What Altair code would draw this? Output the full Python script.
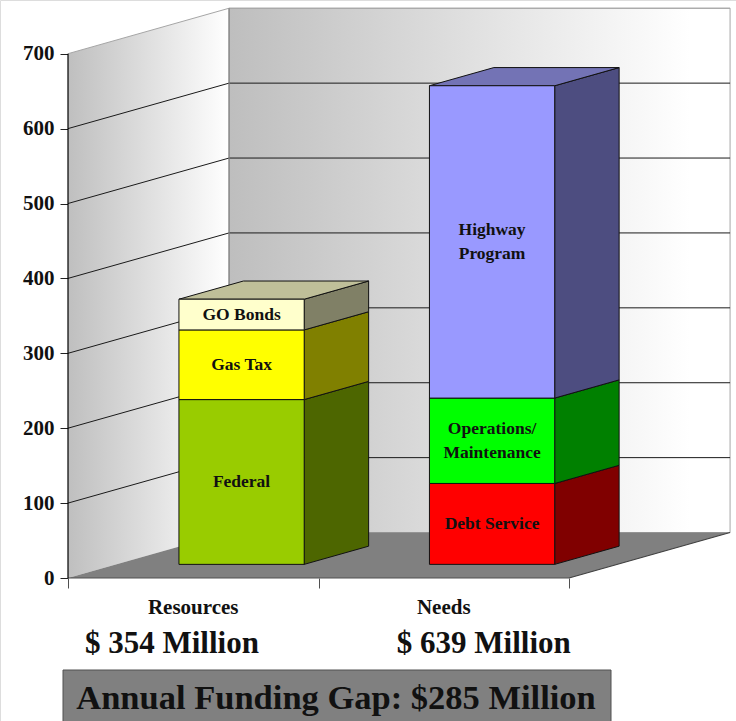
import altair as alt
import pandas as pd

# Stacked funding components, in millions of dollars
categories = ["Resources", "Needs"]
resources_names = ["Federal", "Gas Tax", "GO Bonds"]
resources_values = [220, 93, 41]
needs_names = ["Debt Service", "Operations/\nMaintenance", "Highway\nProgram"]
needs_values = [108, 114, 417]
y_ticks = [0, 100, 200, 300, 400, 500, 600, 700]

resources_front = ["#99CC00", "#FFFF00", "#FFFFCC"]
resources_side = ["#4D6600", "#808000", "#808066"]
resources_top = "#BFBF99"
needs_front = ["#FF0000", "#00FF00", "#9999FF"]
needs_side = ["#800000", "#008000", "#4D4D80"]
needs_top = "#7373B5"

FONT = "Liberation Serif"
WIDTH, HEIGHT = 736, 721
PX_PER_UNIT = 250.5
PX_PER_VALUE = 0.749

# Oblique projection of the box: depth shifts points right and upward
DEPTH_X = 0.643     # category units for the full floor depth
DEPTH_V = 60.7      # value units for the full floor depth
BAR_Z0, BAR_Z1 = 0.30, 0.70
BAR_WIDTH = 0.5
LINE_HEIGHT = 24

x_scale = alt.Scale(domain=[-68 / PX_PER_UNIT, (WIDTH - 68) / PX_PER_UNIT], nice=False, zero=False)
y_scale = alt.Scale(domain=[-(HEIGHT - 578) / PX_PER_VALUE, 578 / PX_PER_VALUE], nice=False, zero=False)

# Every layer shares these axes: the value axis on the side wall, category ticks under the floor
x_axis = alt.Axis(values=[0, 1, 2], labels=False, domain=False, grid=False, tickSize=10,
                  tickColor="#505050", title=None, offset=-(HEIGHT - 578))
y_axis = alt.Axis(values=y_ticks, domain=False, grid=False, tickSize=8, tickColor="#222222",
                  labelFont=FONT, labelFontWeight="bold", labelFontSize=21, labelColor="#111111",
                  labelPadding=6, title=None, offset=-68)


def X(field):
    return alt.X(field, type="quantitative", scale=x_scale, axis=x_axis)


def Y(field):
    return alt.Y(field, type="quantitative", scale=y_scale, axis=y_axis)


def proj(u, v, z):
    return u + z * DEPTH_X, v + z * DEPTH_V


# Walls and floor
left_wall = pd.DataFrame([
    {"u": proj(0, 0, z)[0], "lo": proj(0, 0, z)[1], "hi": proj(0, 700, z)[1]} for z in (0, 1)
])
back_wall = pd.DataFrame([
    {"u": proj(u, 0, 1)[0], "lo": proj(u, 0, 1)[1], "hi": proj(u, 700, 1)[1]} for u in (0, 2)
])
floor = pd.DataFrame([
    {"v": proj(0, 0, z)[1], "a": proj(0, 0, z)[0], "b": proj(2, 0, z)[0]} for z in (0, 1)
])


def grad(stops):
    return alt.Gradient(
        gradient="linear", x1=0, x2=1, y1=0, y2=0,
        stops=[alt.GradientStop(offset=o, color=c) for o, c in stops],
    )


left_layer = alt.Chart(left_wall).mark_area(
    orient="vertical", color=grad([(0, "#BFBFBF"), (1, "#FFFFFF")])
).encode(x=X("u"), y=Y("lo"), y2="hi")

back_layer = alt.Chart(back_wall).mark_area(
    orient="vertical", color=grad([(0, "#BEBEBE"), (0.92, "#FFFFFF"), (1, "#FFFFFF")]),
    stroke="#A6A6A6", strokeWidth=1,
).encode(x=X("u"), y=Y("lo"), y2="hi")

floor_layer = alt.Chart(floor).mark_area(orient="horizontal", color="#808080").encode(
    y=Y("v"), x=X("a"), x2="b"
)

# Gridlines run up the side wall, then across the back wall
grid_rows = []
for t in y_ticks[1:]:
    for step, (u, z) in enumerate([(0, 0), (0, 1), (2, 1)]):
        px, pv = proj(u, t, z)
        grid_rows.append({"tick": t, "step": step, "u": px, "v": pv})
grid = pd.DataFrame(grid_rows)
grid_layer = alt.Chart(grid).mark_line(strokeWidth=1).encode(
    x=X("u"), y=Y("v"), detail="tick:N", order="step:Q",
    color=alt.condition(alt.datum.tick == 700, alt.value("#A6A6A6"), alt.value("#1A1A1A")),
)

# Axis frame lines
frame_rows = [
    ("wall", *proj(0, 0, 1), 0), ("wall", *proj(0, 700, 1), 1),
    ("floor", *proj(2, 0, 0), 0), ("floor", *proj(2, 0, 1), 1),
    ("base", *proj(0, 0, 0), 0), ("base", *proj(2, 0, 0), 1),
    ("axis", *proj(0, 0, 0), 0), ("axis", *proj(0, 700, 0), 1),
]
frame = pd.DataFrame(frame_rows, columns=["name", "u", "v", "step"])
frame_styles = {"wall": "#808080", "floor": "#404040", "base": "#505050", "axis": "#000000"}
frame_layer = alt.Chart(frame).mark_line(strokeWidth=1.2).encode(
    x=X("u"), y=Y("v"), detail="name:N", order="step:Q",
    stroke=alt.Stroke("name:N", scale=alt.Scale(domain=list(frame_styles), range=list(frame_styles.values())), legend=None),
)

# Bars: front rectangles, side parallelograms, top caps
stacks = [
    (0, resources_names, resources_values, resources_front, resources_side, resources_top),
    (1, needs_names, needs_values, needs_front, needs_side, needs_top),
]
front_rows, side_rows, top_rows, label_rows = [], [], [], []
for idx, names, values, fronts, sides, top_color in stacks:
    left = idx + (1 - BAR_WIDTH) / 2
    right = left + BAR_WIDTH
    base = 0
    for name, val, f, s in zip(names, values, fronts, sides):
        upper = base + val
        xl, yl = proj(left, base, BAR_Z0)
        xr, yu = proj(right, upper, BAR_Z0)
        front_rows.append({"x0": xl, "x1": xr, "y0": yl, "y1": yu, "fill": f})
        # Multi-line labels anchor on their first line, so lift them by half the extra height
        lift = name.count("\n") * (LINE_HEIGHT / 2) / PX_PER_VALUE
        label_rows.append({"x": (xl + xr) / 2, "y": (yl + yu) / 2 + lift, "text": name})
        for z in (BAR_Z0, BAR_Z1):
            px, lo = proj(right, base, z)
            _, hi = proj(right, upper, z)
            side_rows.append({"id": name, "u": px, "lo": lo, "hi": hi, "fill": s})
        base = upper
    for z in (BAR_Z0, BAR_Z1):
        a, v = proj(left, base, z)
        b, _ = proj(right, base, z)
        top_rows.append({"id": str(idx), "v": v, "a": a, "b": b, "fill": top_color})

front_layer = alt.Chart(pd.DataFrame(front_rows)).mark_rect(stroke="#111111", strokeWidth=1).encode(
    x=X("x0"), x2="x1", y=Y("y0"), y2="y1", fill=alt.Fill("fill:N", scale=None)
)
side_layer = alt.Chart(pd.DataFrame(side_rows)).mark_area(
    orient="vertical", stroke="#111111", strokeWidth=1
).encode(x=X("u"), y=Y("lo"), y2="hi", detail="id:N", fill=alt.Fill("fill:N", scale=None))
top_layer = alt.Chart(pd.DataFrame(top_rows)).mark_area(
    orient="horizontal", stroke="#111111", strokeWidth=1
).encode(y=Y("v"), x=X("a"), x2="b", detail="id:N", fill=alt.Fill("fill:N", scale=None))

segment_labels = alt.Chart(pd.DataFrame(label_rows)).mark_text(
    font=FONT, fontWeight="bold", fontSize=17.5, color="#111111",
    lineBreak="\n", lineHeight=LINE_HEIGHT, baseline="middle",
).encode(x=X("x"), y=Y("y"), text="text:N")

category_labels = alt.Chart(pd.DataFrame({"x": [0.5, 1.5], "name": categories})).mark_text(
    font=FONT, fontWeight="bold", fontSize=21, color="#111111", baseline="middle"
).encode(x=X("x"), y=alt.value(608), text="name:N")

total_labels = alt.Chart(pd.DataFrame({
    "text": [f"$ {sum(resources_values)} Million", f"$ {sum(needs_values)} Million"],
    "x": [0.415, 1.66],
})).mark_text(font=FONT, fontWeight="bold", fontSize=31, color="#111111", baseline="middle").encode(
    x=X("x"), y=alt.value(644), text="text:N"
)

gap_box = alt.Chart(pd.DataFrame({"a": [0]})).mark_rect(
    color="#808080", stroke="#505050", strokeWidth=1
).encode(x=alt.value(63), x2=alt.value(611), y=alt.value(670), y2=alt.value(730))

gap_label = alt.Chart(pd.DataFrame({
    "text": [f"Annual Funding Gap: ${sum(needs_values) - sum(resources_values)} Million"]
})).mark_text(font=FONT, fontWeight="bold", fontSize=34.5, color="#111111", baseline="middle").encode(
    x=alt.value(336), y=alt.value(699), text="text:N"
)

chart = alt.layer(
    left_layer, back_layer, floor_layer, grid_layer, frame_layer,
    side_layer, top_layer, front_layer, segment_labels,
    category_labels, total_labels, gap_box, gap_label,
).properties(
    width=WIDTH, height=HEIGHT, padding=0, autosize=alt.AutoSizeParams(type="none")
).configure_view(strokeWidth=0).configure(background="white")

chart.save("out.html", embed_options={"renderer": "svg", "actions": False})
